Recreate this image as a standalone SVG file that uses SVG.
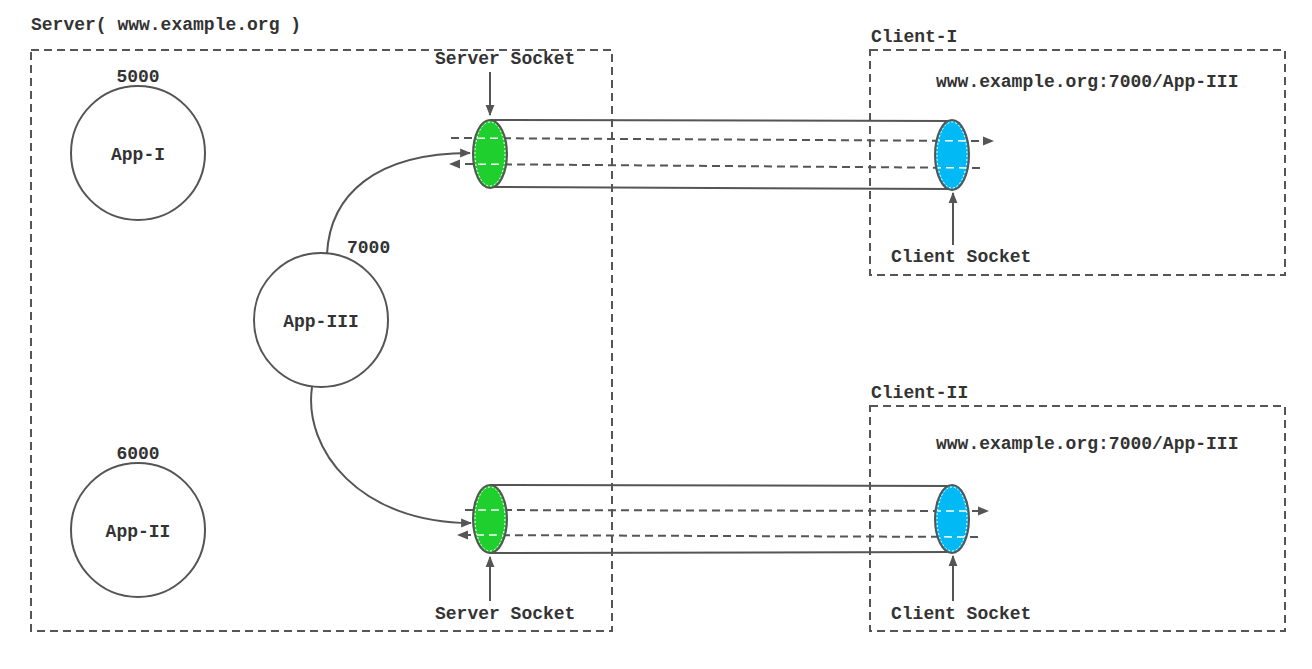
<svg xmlns="http://www.w3.org/2000/svg" width="1312" height="669" viewBox="0 0 1312 669">
<style>
text{font-family:"Liberation Mono","Courier New",monospace;font-weight:bold;font-size:18px;fill:#333}
.box{fill:none;stroke:#555;stroke-width:2;stroke-dasharray:8 5}
.circ{fill:#fff;stroke:#555;stroke-width:2}
.ln{fill:none;stroke:#555;stroke-width:2}
.dl{fill:none;stroke:#555;stroke-width:2;stroke-dasharray:8 5}
.wd{fill:none;stroke:#fff;stroke-width:1.5;stroke-dasharray:8 5}
.sock{stroke:#555;stroke-width:2}
</style>
<defs>
<marker id="a" viewBox="0 0 10 10" refX="9" refY="5" markerWidth="11" markerHeight="11" orient="auto" markerUnits="userSpaceOnUse">
<path d="M0 1 L10 5 L0 9 Z" fill="#555"/>
</marker>
<clipPath id="c1"><ellipse cx="490" cy="154" rx="15" ry="32"/></clipPath>
<clipPath id="c2"><ellipse cx="952" cy="155" rx="15" ry="33"/></clipPath>
<clipPath id="c3"><ellipse cx="490" cy="519" rx="15" ry="32"/></clipPath>
<clipPath id="c4"><ellipse cx="952" cy="519" rx="15" ry="32"/></clipPath>
</defs>

<g id="server">
<rect class="box" x="31" y="50" width="581" height="581"/>
<text x="31" y="30">Server( www.example.org )</text>
</g>
<g id="client1">
<rect class="box" x="870" y="50" width="415" height="225"/>
<text x="871" y="42">Client-I</text>
<text x="936" y="87">www.example.org:7000/App-III</text>
</g>
<g id="client2">
<rect class="box" x="870" y="406" width="415" height="225"/>
<text x="871" y="398">Client-II</text>
<text x="936" y="449">www.example.org:7000/App-III</text>
</g>

<g id="app1">
<circle class="circ" cx="138" cy="153" r="67"/>
<text x="138" y="82" text-anchor="middle">5000</text>
<text x="138" y="160" text-anchor="middle">App-I</text>
</g>
<g id="app2">
<circle class="circ" cx="138" cy="530" r="67"/>
<text x="138" y="459" text-anchor="middle">6000</text>
<text x="138" y="537" text-anchor="middle">App-II</text>
</g>
<g id="app3">
<circle class="circ" cx="321" cy="320" r="67"/>
<text x="347" y="253">7000</text>
<text x="321" y="327" text-anchor="middle">App-III</text>
</g>

<g id="tube1">
<path class="ln" d="M490 120 L952 121 M490 187 L952 189"/>
</g>
<g id="tube2">
<path class="ln" d="M490 485 L952 486 M490 553 L952 552"/>
</g>

<g id="connectors">
<path class="dl" d="M451 138 L985 141" />
<path d="M994 141 L983 136.5 L983 145.5 Z" fill="#555"/>
<path class="dl" d="M980 168 L459 164" />
<path d="M449 164 L460 159.5 L460 168.5 Z" fill="#555"/>
<path class="dl" d="M465 510 L980 511" />
<path d="M989 511 L978 506.5 L978 515.5 Z" fill="#555"/>
<path class="dl" d="M978 537 L467 535" />
<path d="M457 535 L468 530.5 L468 539.5 Z" fill="#555"/>
<path class="ln" d="M327 254 C330 195 375 153 470 153" marker-end="url(#a)"/>
<path class="ln" d="M312 387 C303 450 360 523 471 523" marker-end="url(#a)"/>
<path class="ln" d="M490 72 L490 115" marker-end="url(#a)"/>
<path class="ln" d="M490 601 L490 557" marker-end="url(#a)"/>
<path class="ln" d="M953 245 L953 193" marker-end="url(#a)"/>
<path class="ln" d="M953 601 L953 556" marker-end="url(#a)"/>
</g>

<g id="sock-s1">
<ellipse class="sock" cx="490" cy="154" rx="17" ry="34" fill="#1fcf2d"/>
<ellipse cx="490" cy="154" rx="15" ry="32" fill="none" stroke="#fff" stroke-width="1" stroke-dasharray="2 2"/>
<path class="wd" clip-path="url(#c1)" d="M451 138 L985 141 M980 168 L459 164"/>
<text x="435" y="64">Server Socket</text>
</g>
<g id="sock-c1">
<ellipse class="sock" cx="952" cy="155" rx="17" ry="35" fill="#00b9f5"/>
<ellipse cx="952" cy="155" rx="15" ry="33" fill="none" stroke="#fff" stroke-width="1" stroke-dasharray="2 2"/>
<path class="wd" clip-path="url(#c2)" d="M451 138 L985 141 M980 168 L459 164"/>
<text x="891" y="262">Client Socket</text>
</g>
<g id="sock-s2">
<ellipse class="sock" cx="490" cy="519" rx="17" ry="34" fill="#1fcf2d"/>
<ellipse cx="490" cy="519" rx="15" ry="32" fill="none" stroke="#fff" stroke-width="1" stroke-dasharray="2 2"/>
<path class="wd" clip-path="url(#c3)" d="M465 510 L980 511 M978 537 L467 535"/>
<text x="435" y="619">Server Socket</text>
</g>
<g id="sock-c2">
<ellipse class="sock" cx="952" cy="519" rx="17" ry="34" fill="#00b9f5"/>
<ellipse cx="952" cy="519" rx="15" ry="32" fill="none" stroke="#fff" stroke-width="1" stroke-dasharray="2 2"/>
<path class="wd" clip-path="url(#c4)" d="M465 510 L980 511 M978 537 L467 535"/>
<text x="891" y="619">Client Socket</text>
</g>
</svg>
